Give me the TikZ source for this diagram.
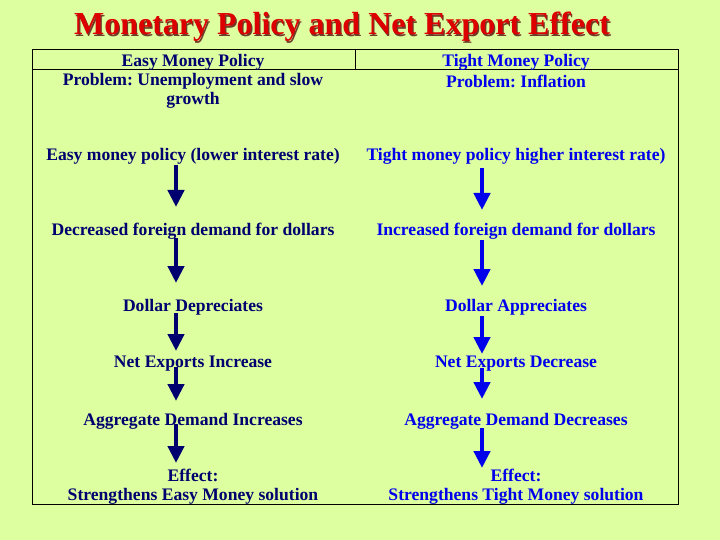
\documentclass[tikz,border=0pt]{standalone}
\usepackage{fontspec}
\setmainfont{Liberation Serif}
\usetikzlibrary{arrows.meta}
\frenchspacing
\definecolor{bg}{RGB}{222,255,160}
\definecolor{navy}{RGB}{0,0,110}
\definecolor{bright}{RGB}{0,0,235}
\definecolor{titlered}{RGB}{220,0,0}
\definecolor{shadow}{RGB}{110,60,40}
\tikzset{
  body/.style={font=\fontsize{17.6}{19}\selectfont\bfseries\frenchspacing, inner sep=0pt, align=center},
  lefttxt/.style={body, text=navy},
  righttxt/.style={body, text=bright},
  bigarrow/.style={line width=4.5pt, -{Triangle[width=16pt,length=17pt]}},
  larrow/.style={bigarrow, draw=navy, fill=navy},
  rarrow/.style={bigarrow, draw=bright, fill=bright},
}
\begin{document}
\begin{tikzpicture}[x=1pt,y=-1pt]
\fill[bg] (0,0) rectangle (720,540);
\useasboundingbox (0,0) rectangle (720,540);
% title
\node[font=\fontsize{32}{34}\selectfont\bfseries, text=shadow] at (343.2,28.2) {Monetary Policy and Net Export Effect};
\node (title) [font=\fontsize{32}{34}\selectfont\bfseries, text=titlered] at (342,27) {Monetary Policy and Net Export Effect};
% table
\draw[line width=1pt] (32,50) rectangle (678,504);
\draw[line width=1pt] (32,70) -- (678,70);
\draw[line width=1pt] (355,50) -- (355,70);
% headers
\node (lh) [lefttxt] at (193,62) {Easy Money Policy};
\node (rh) [righttxt] at (516,62) {Tight Money Policy};
\node (lp) [lefttxt] at (193,90.5) {Problem: Unemployment and slow\\growth};
\node (rp) [righttxt] at (516,81) {Problem: Inflation};
% left column
\node (l1) [lefttxt] at (193,156) {Easy money policy (lower interest rate)};
\node (l2) [lefttxt] at (193,231) {Decreased foreign demand for dollars};
\node (l3) [lefttxt] at (193,307) {Dollar Depreciates};
\node (l4) [lefttxt] at (193,364) {Net Exports Increase};
\node (l5) [lefttxt] at (193,421) {Aggregate Demand Increases};
\node (l6) [lefttxt] at (193,487) {Effect:\\Strengthens Easy Money solution};
% right column
\node (r1) [righttxt] at (516,156) {Tight money policy higher interest rate)};
\node (r2) [righttxt] at (516,231) {Increased foreign demand for dollars};
\node (r3) [righttxt] at (516,307) {Dollar Appreciates};
\node (r4) [righttxt] at (516,364) {Net Exports Decrease};
\node (r5) [righttxt] at (516,421) {Aggregate Demand Decreases};
\node (r6) [righttxt] at (516,487) {Effect:\\Strengthens Tight Money solution};
% arrow end points
\coordinate (la1s) at (176,165); \coordinate (la1e) at (176,207);
\coordinate (la2s) at (176,238); \coordinate (la2e) at (176,283);
\coordinate (la3s) at (176,313); \coordinate (la3e) at (176,351);
\coordinate (la4s) at (176,367); \coordinate (la4e) at (176,401);
\coordinate (la5s) at (176,424); \coordinate (la5e) at (176,463);
\coordinate (ra1s) at (482,168); \coordinate (ra1e) at (482,210);
\coordinate (ra2s) at (482,240); \coordinate (ra2e) at (482,286);
\coordinate (ra3s) at (482,316); \coordinate (ra3e) at (482,354);
\coordinate (ra4s) at (482,368); \coordinate (ra4e) at (482,399);
\coordinate (ra5s) at (482,428); \coordinate (ra5e) at (482,468);
\draw[larrow] (la1s) -- (la1e);
\draw[larrow] (la2s) -- (la2e);
\draw[larrow] (la3s) -- (la3e);
\draw[larrow] (la4s) -- (la4e);
\draw[larrow] (la5s) -- (la5e);
\draw[rarrow] (ra1s) -- (ra1e);
\draw[rarrow] (ra2s) -- (ra2e);
\draw[rarrow] (ra3s) -- (ra3e);
\draw[rarrow] (ra4s) -- (ra4e);
\draw[rarrow] (ra5s) -- (ra5e);
\end{tikzpicture}
\end{document}
